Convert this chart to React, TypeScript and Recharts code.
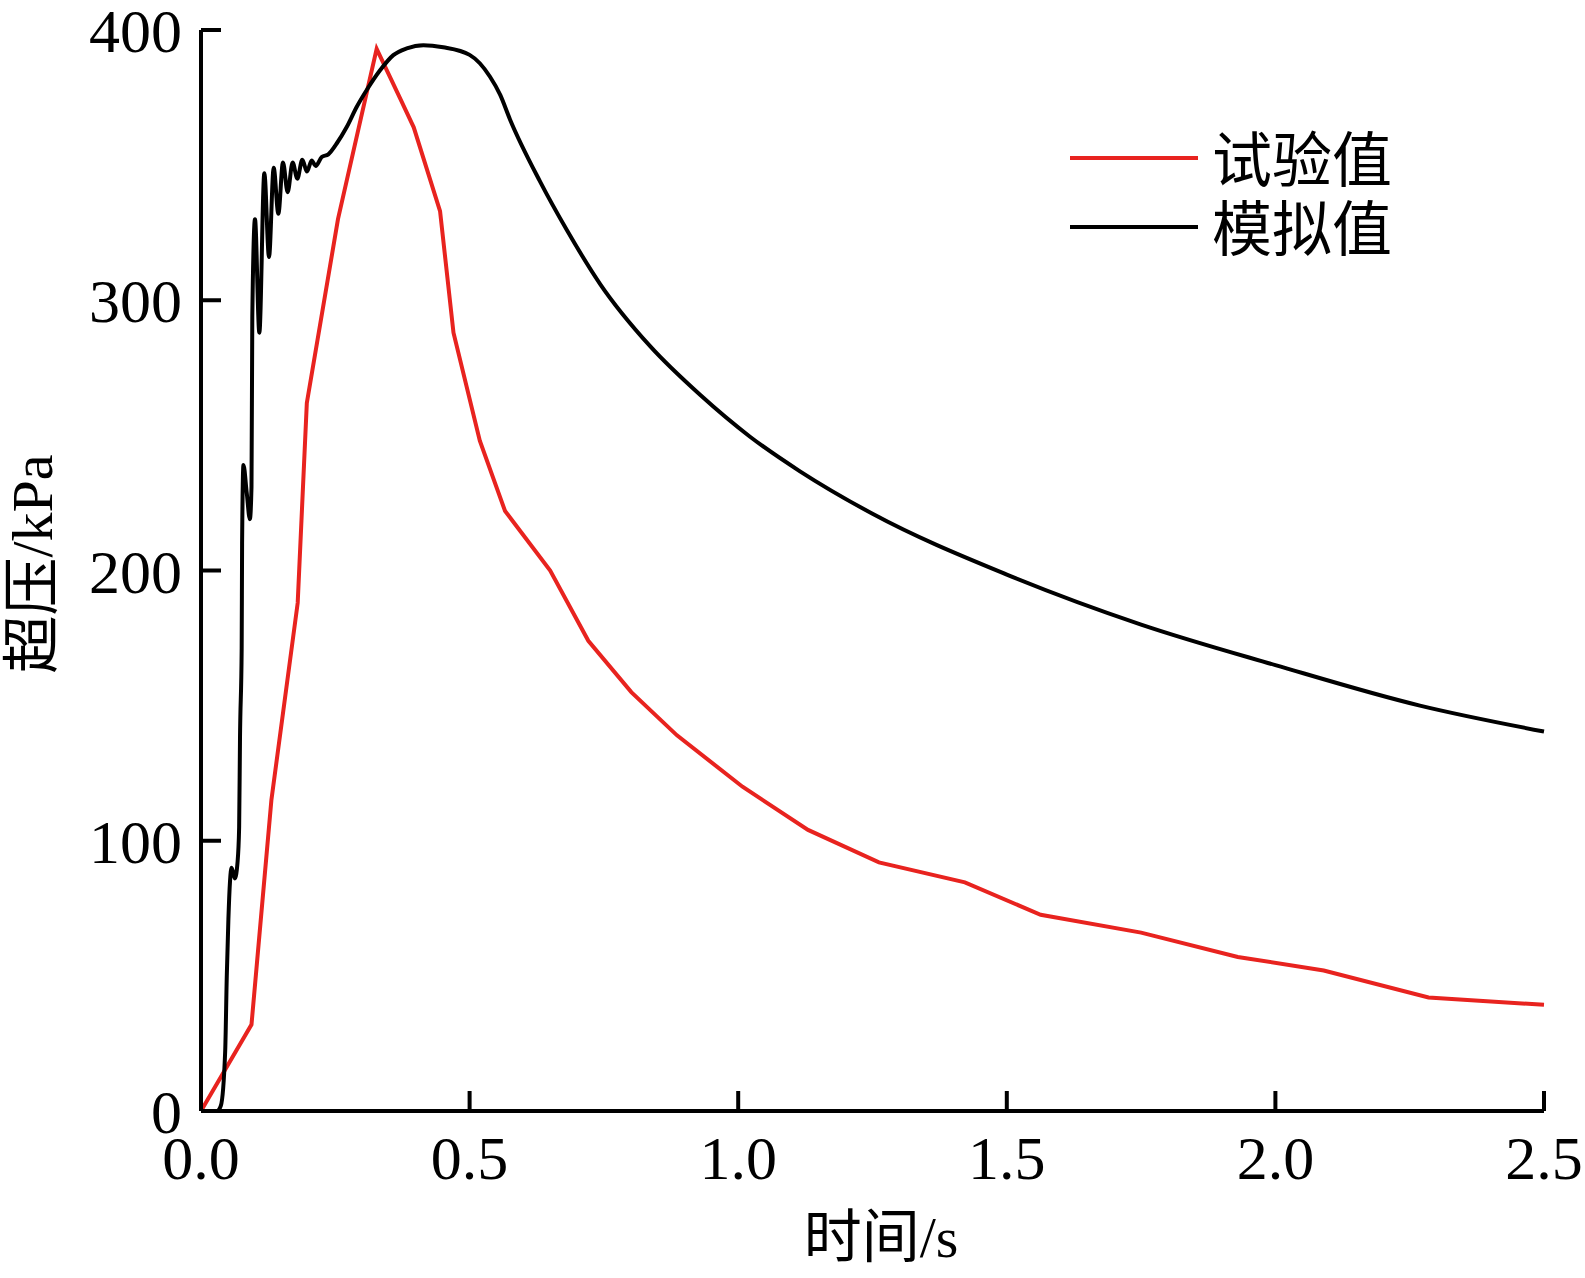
import React from "react";
import { LineChart, Line, XAxis, YAxis, Legend } from "recharts";

// 试验值 (test values): time / overpressure
const testTime = [
  0, 0.094, 0.131, 0.18, 0.197, 0.255, 0.327, 0.37, 0.396, 0.445, 0.47, 0.519,
  0.566, 0.65, 0.721, 0.801, 0.886, 1.008, 1.13, 1.262, 1.422, 1.563, 1.75,
  1.93, 2.09, 2.285, 2.5,
];
const testValue = [
  0, 32, 115, 188, 262, 330, 393, 375, 364, 333, 288, 248, 222, 200, 174, 155,
  139, 120, 104, 92, 84.6, 72.6, 66, 57, 52, 42, 39.3,
];

// 模拟值 (simulated values)
const simTime = [
  0, 0.03, 0.037, 0.045, 0.048, 0.051, 0.054, 0.057, 0.063, 0.068, 0.071,
  0.0726, 0.0757, 0.0765, 0.079, 0.085, 0.091, 0.094, 0.0955, 0.1005, 0.1086,
  0.1179, 0.1266, 0.1353, 0.144, 0.1526, 0.1613, 0.1706, 0.1793, 0.1886,
  0.1973, 0.206, 0.2135, 0.2247, 0.237, 0.2526, 0.271, 0.29, 0.3085, 0.333,
  0.358, 0.383, 0.414, 0.451, 0.5, 0.519, 0.538, 0.557, 0.575, 0.631, 0.681,
  0.743, 0.836, 0.929, 1.022, 1.115, 1.25, 1.5, 1.75, 2.0, 2.269, 2.5,
];
const simValue = [
  0, 0, 2, 22, 50, 71, 85, 90, 86, 92, 105, 138, 171, 210, 239, 229, 219, 231,
  294, 330, 288, 347, 316, 349, 332, 351, 340, 351, 345, 352, 347.6, 351.7,
  349.7, 353, 354, 358, 364, 371.6, 377.8, 385, 390.7, 393.2, 394.4, 393.6,
  390.8, 387.7, 382.7, 376, 367, 344, 326, 306, 283, 265, 249.5, 236.7, 221,
  198.5, 180, 165, 150, 140.4,
];

const xTicks = [0, 0.5, 1.0, 1.5, 2.0, 2.5];
const yTicks = [0, 100, 200, 300, 400];
const legendOrder = ["试验值", "模拟值"];

const testData = testTime.map((t, i) => ({ t, v: testValue[i] }));
const simData = simTime.map((t, i) => ({ t, v: simValue[i] }));

const RED = "#E8231F";
const SERIF = "'Liberation Serif', 'Times New Roman', serif";
const TITLE_FONT = "'Liberation Serif', 'Noto Sans CJK SC', serif";

function LegendBox(props: any) {
  const payload = [...(props.payload || [])].sort(
    (a: any, b: any) => legendOrder.indexOf(a.value) - legendOrder.indexOf(b.value)
  );
  return (
    <svg width={360} height={160}>
      {payload.map((p: any, i: number) => {
        const y = 48 + i * 69;
        return (
          <g key={p.value}>
            <line x1={30} x2={158} y1={y} y2={y} stroke={p.color} strokeWidth={4} />
            <text
              x={172}
              y={y - 3}
              fontSize={60}
              fontFamily="'Noto Sans CJK SC', sans-serif"
              dominantBaseline="central"
              fill="#000"
            >
              {p.value}
            </text>
          </g>
        );
      })}
    </svg>
  );
}

export default function App() {
  return (
    <div style={{ position: "absolute", left: 0, top: 0, width: 1585, height: 1278, background: "#fff" }}>
      <LineChart
        width={1585}
        height={1278}
        margin={{ top: 30, right: 41, bottom: 0, left: 0 }}
      >
        <XAxis
          type="number"
          dataKey="t"
          domain={[0, 2.5]}
          ticks={xTicks}
          interval={0}
          height={167}
          tickFormatter={(v: number) => v.toFixed(1)}
          tickSize={-20}
          tickMargin={44}
          axisLine={{ stroke: "#000", strokeWidth: 4 }}
          tickLine={{ stroke: "#000", strokeWidth: 4 }}
          tick={{ fill: "#000", fontSize: 62, fontFamily: SERIF }}
          label={{
            content: () => (
              <text
                x={881}
                y={1237}
                textAnchor="middle"
                dominantBaseline="central"
                fontSize={58}
                fontFamily={TITLE_FONT}
                fill="#000"
              >
                时间/s
              </text>
            ),
          }}
        />
        <YAxis
          type="number"
          domain={[0, 400]}
          ticks={yTicks}
          interval={0}
          width={201}
          tickSize={-20}
          tickMargin={39}
          axisLine={{ stroke: "#000", strokeWidth: 4 }}
          tickLine={{ stroke: "#000", strokeWidth: 4 }}
          tick={{ fill: "#000", fontSize: 62, fontFamily: SERIF }}
          label={{
            content: () => (
              <text
                x={32}
                y={564}
                transform="rotate(-90 32 564)"
                textAnchor="middle"
                dominantBaseline="central"
                fontSize={58}
                fontFamily={TITLE_FONT}
                fill="#000"
              >
                超压/kPa
              </text>
            ),
          }}
        />
        <Legend
          layout="horizontal"
          verticalAlign="middle"
          align="center"
          content={<LegendBox />}
          wrapperStyle={{ position: "absolute", left: 1040, top: 110, width: 360, height: 160 }}
        />
        <Line
          data={testData}
          dataKey="v"
          name="试验值"
          type="linear"
          stroke={RED}
          strokeWidth={4}
          dot={false}
          activeDot={false}
          isAnimationActive={false}
        />
        <Line
          data={simData}
          dataKey="v"
          name="模拟值"
          type="monotone"
          stroke="#000"
          strokeWidth={4}
          dot={false}
          activeDot={false}
          isAnimationActive={false}
        />
      </LineChart>
    </div>
  );
}
